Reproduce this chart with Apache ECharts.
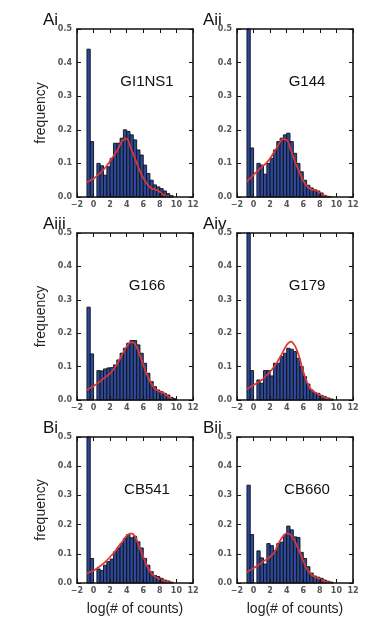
<!DOCTYPE html>
<html>
<head>
<meta charset="utf-8">
<script src="https://cdn.jsdelivr.net/npm/echarts@6/dist/echarts.min.js"></script>
<style>
html, body { margin: 0; padding: 0; background: #fff; }
#chart { width: 369px; height: 625px; }
</style>
</head>
<body>
<div id="chart"></div>
<script>
// histogram bins (centres, log counts) and fit sample points
var binX = [-0.6, -0.2, 0.2, 0.6, 1.0, 1.4, 1.8, 2.2, 2.6, 3.0, 3.4, 3.8, 4.2, 4.6,
            5.0, 5.4, 5.8, 6.2, 6.6, 7.0, 7.4, 7.8, 8.2, 8.6, 9.0, 9.4, 9.8];
var binWidth = 0.4;
var fitX = [-0.8, 0, 0.5, 1, 1.5, 2, 2.5, 3, 3.5, 4, 4.5, 5, 5.5, 6, 6.5, 7, 7.5, 8, 8.5, 9, 9.5];

var freqAi   = [0.44, 0.165, 0, 0.1, 0.093, 0.065, 0.09, 0.115, 0.16, 0.16, 0.175, 0.2, 0.195, 0.185,
                0.17, 0.14, 0.125, 0.095, 0.07, 0.05, 0.036, 0.03, 0.025, 0.018, 0.01, 0.004, 0];
var fitAi    = [0.044, 0.055, 0.065, 0.076, 0.09, 0.107, 0.125, 0.145, 0.168, 0.174, 0.145, 0.115,
                0.082, 0.057, 0.037, 0.025, 0.022, 0.015, 0.006, 0.001, 0];

var freqAii  = [0.62, 0.146, 0, 0.1, 0.095, 0.068, 0.1, 0.115, 0.14, 0.165, 0.175, 0.185, 0.19, 0.165,
                0.13, 0.1, 0.075, 0.05, 0.035, 0.027, 0.022, 0.018, 0.012, 0.005, 0.002, 0, 0];
var fitAii   = [0.046, 0.066, 0.078, 0.09, 0.1, 0.115, 0.135, 0.155, 0.172, 0.17, 0.14, 0.105,
                0.075, 0.048, 0.03, 0.022, 0.02, 0.012, 0.004, 0, 0];

var freqAiii = [0.278, 0.138, 0, 0.088, 0.087, 0.093, 0.096, 0.097, 0.105, 0.12, 0.14, 0.155, 0.17, 0.178,
                0.178, 0.165, 0.14, 0.11, 0.08, 0.055, 0.04, 0.03, 0.025, 0.02, 0.015, 0.008, 0.004];
var fitAiii  = [0.03, 0.042, 0.05, 0.06, 0.07, 0.08, 0.095, 0.115, 0.138, 0.16, 0.173, 0.168,
                0.14, 0.105, 0.072, 0.048, 0.032, 0.025, 0.02, 0.01, 0.003];

var freqAiv  = [0.6, 0.088, 0, 0.06, 0.05, 0.088, 0.088, 0.072, 0.11, 0.11, 0.13, 0.14, 0.155, 0.152,
                0.145, 0.125, 0.1, 0.07, 0.048, 0.03, 0.022, 0.02, 0.014, 0.01, 0.006, 0.003, 0];
var fitAiv   = [0.033, 0.045, 0.052, 0.06, 0.072, 0.085, 0.1, 0.12, 0.142, 0.165, 0.175, 0.162,
                0.13, 0.085, 0.05, 0.03, 0.022, 0.015, 0.008, 0.003, 0];

var freqBi   = [0.6, 0.084, 0, 0.048, 0.043, 0.061, 0.073, 0.082, 0.107, 0.12, 0.135, 0.152, 0.166, 0.155,
                0.16, 0.141, 0.12, 0.084, 0.061, 0.039, 0.026, 0.022, 0.016, 0.01, 0.007, 0.003, 0];
var fitBi    = [0.033, 0.043, 0.052, 0.062, 0.075, 0.09, 0.105, 0.125, 0.143, 0.162, 0.17, 0.16,
                0.125, 0.09, 0.055, 0.032, 0.02, 0.013, 0.007, 0.003, 0];

var freqBii  = [0.335, 0.166, 0, 0.11, 0.086, 0.065, 0.135, 0.128, 0.11, 0.135, 0.14, 0.165, 0.195, 0.182,
                0.158, 0.156, 0.105, 0.084, 0.056, 0.034, 0.024, 0.02, 0.016, 0.01, 0.006, 0.003, 0];
var fitBii   = [0.038, 0.051, 0.06, 0.07, 0.08, 0.09, 0.105, 0.135, 0.158, 0.17, 0.165, 0.142,
                0.11, 0.075, 0.045, 0.028, 0.02, 0.014, 0.006, 0.002, 0];

var panelTags  = ['Ai', 'Aii', 'Aiii', 'Aiv', 'Bi', 'Bii'];
var panelNames = ['GI1NS1', 'G144', 'G166', 'G179', 'CB541', 'CB660'];
var panelFreq  = [freqAi, freqAii, freqAiii, freqAiv, freqBi, freqBii];
var panelFit   = [fitAi, fitAii, fitAiii, fitAiv, fitBi, fitBii];

var xLabel = 'log(# of counts)';
var yLabel = 'frequency';

// plot boxes in pixels
var boxes = [
    {left: 77,  top: 29,  width: 116, height: 168},
    {left: 237, top: 29,  width: 116, height: 168},
    {left: 77,  top: 233, width: 116, height: 167},
    {left: 237, top: 233, width: 116, height: 167},
    {left: 77,  top: 437, width: 116, height: 146},
    {left: 237, top: 437, width: 116, height: 146}
];

var tickFont = {fontSize: 8, color: '#555', fontFamily: 'DejaVu Sans', fontWeight: 'bold'};
var frame = {onZero: false, lineStyle: {color: '#111', width: 1.6}};
var ticks = {inside: true, length: 4, lineStyle: {color: '#111', width: 1}};

function renderBar(params, api) {
    var h = api.value(1);
    if (!h) return;
    var x = api.value(0);
    var p0 = api.coord([x - binWidth / 2, h]);
    var p1 = api.coord([x + binWidth / 2, 0]);
    var cs = params.coordSys;
    var shape = echarts.graphic.clipRectByRect(
        {x: p0[0], y: p0[1], width: p1[0] - p0[0], height: p1[1] - p0[1]},
        {x: cs.x, y: cs.y, width: cs.width, height: cs.height});
    if (!shape) return;
    return {type: 'rect', shape: shape, style: {fill: '#2c489c', stroke: '#111', lineWidth: 0.9}};
}

var grid = [], xAxis = [], yAxis = [], series = [], graphic = [];

boxes.forEach(function (b, i) {
    grid.push(b);
    var isLeft = (i % 2 === 0), isBottom = (i >= 4);

    xAxis.push({
        type: 'value', gridIndex: i, min: -2, max: 12, interval: 2, z: 5,
        axisLine: frame, axisTick: ticks, splitLine: {show: false},
        axisLabel: Object.assign({margin: 4, formatter: function (v) {
            return v < 0 ? '\u2212' + Math.abs(v) : String(v);
        }}, tickFont),
        name: isBottom ? xLabel : '', nameLocation: 'middle', nameGap: 19,
        nameTextStyle: {fontSize: 14, color: '#222', fontFamily: 'Liberation Sans'}
    });
    xAxis.push({
        type: 'value', gridIndex: i, min: -2, max: 12, interval: 2, position: 'top', z: 5,
        axisLine: frame, axisTick: ticks, axisLabel: {show: false}, splitLine: {show: false}
    });
    yAxis.push({
        type: 'value', gridIndex: i, min: 0, max: 0.5, interval: 0.1, z: 5,
        axisLine: frame, axisTick: ticks, splitLine: {show: false},
        axisLabel: Object.assign({margin: 5, formatter: function (v) { return v.toFixed(1); }}, tickFont),
        name: isLeft ? yLabel : '', nameLocation: 'middle', nameGap: 29, nameRotate: 90,
        nameTextStyle: {fontSize: 14, color: '#222', fontFamily: 'Liberation Sans'}
    });
    yAxis.push({
        type: 'value', gridIndex: i, min: 0, max: 0.5, interval: 0.1, position: 'right', z: 5,
        axisLine: frame, axisTick: ticks, axisLabel: {show: false}, splitLine: {show: false}
    });

    series.push({
        type: 'custom', xAxisIndex: 2 * i, yAxisIndex: 2 * i, z: 2,
        renderItem: renderBar,
        data: binX.map(function (x, j) { return [x, panelFreq[i][j]]; })
    });
    series.push({
        type: 'line', xAxisIndex: 2 * i, yAxisIndex: 2 * i, z: 3,
        smooth: 0.35, symbol: 'none',
        lineStyle: {color: '#e5352b', width: 1.7},
        data: fitX.map(function (x, j) { return [x, panelFit[i][j]]; })
    });

    graphic.push({
        type: 'text', left: b.left - 34, top: b.top - 17,
        style: {text: panelTags[i], fontSize: 17, fill: '#111', fontFamily: 'Liberation Sans'}
    });
    graphic.push({
        type: 'text', x: b.left + 70, y: b.top + 53,
        style: {text: panelNames[i], fontSize: 15, fill: '#111', fontFamily: 'Liberation Sans',
                textAlign: 'center', textVerticalAlign: 'middle'}
    });
});

var chart = echarts.init(document.getElementById('chart'));
chart.setOption({
    animation: false,
    grid: grid,
    xAxis: xAxis,
    yAxis: yAxis,
    series: series,
    graphic: graphic
});
</script>
</body>
</html>
